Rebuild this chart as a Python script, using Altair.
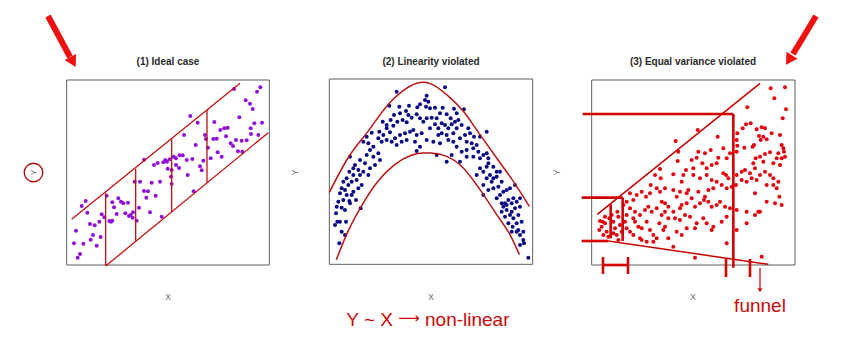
import altair as alt
import pandas as pd

# ---------------- data (in each panel's reading units) ----------------
panel_titles = ["(1) Ideal case", "(2) Linearity violated", "(3) Equal variance violated"]
axis_x_label = "X"
axis_y_label = "Y"
note_left, note_arrow, note_right = "Y ~ X", "\u27f6", "non-linear"
note_funnel = "funnel"

# panel 1: ideal case (purple points)
p1_points = [
    (522, 42), (601, 37), (591, 50), (557, 76), (570, 86), (578, 102), (391, 123), (413, 143),
    (538, 127), (463, 141), (606, 143), (583, 145), (572, 160), (503, 158), (493, 160), (481, 165),
    (372, 180), (435, 180), (438, 192), (470, 191), (460, 192), (498, 184), (573, 177), (595, 180),
    (528, 195), (512, 205), (519, 213), (545, 197), (560, 196), (407, 210), (444, 218), (547, 230),
    (534, 229), (473, 232), (485, 245), (252, 254), (329, 253), (316, 255), (341, 245), (359, 241),
    (368, 241), (348, 250), (380, 255), (397, 252), (452, 250), (282, 270), (293, 264), (310, 262),
    (321, 260), (323, 281), (335, 285), (348, 270), (357, 279), (420, 274), (430, 257), (425, 286),
    (383, 300), (224, 320), (240, 320), (275, 323), (300, 320), (333, 305), (335, 327), (401, 349),
    (252, 348), (264, 349), (259, 368), (287, 362), (140, 362), (77, 378), (65, 393), (82, 413),
    (157, 382), (175, 370), (183, 380), (190, 385), (204, 383), (162, 397), (170, 417), (196, 415),
    (212, 420), (219, 412), (237, 398), (148, 438), (157, 437), (153, 440), (125, 418), (133, 427),
    (118, 440), (104, 451), (90, 447), (230, 437), (270, 412), (305, 425), (48, 467), (99, 480),
    (92, 494), (122, 486), (70, 506), (42, 505), (110, 512), (60, 537), (53, 548), (218, 428), (207, 423),
]
p1_band_lines = [
    (35, 433, 540, 25), (137, 573, 625, 173),
    (137, 355, 137, 573), (227, 281, 227, 498), (335, 193, 335, 411), (441, 105, 441, 324),
]

# panel 2: linearity violated (navy points)
p2_points = [
    (230, 50), (375, 37), (320, 62), (315, 75), (325, 80), (208, 92), (238, 95), (267, 92), (292, 97),
    (300, 88), (318, 95), (330, 100), (345, 98), (368, 98), (402, 101), (432, 103), (410, 115),
    (380, 118), (360, 115), (392, 130), (258, 108), (265, 120), (240, 115), (222, 120), (212, 135),
    (200, 150), (188, 140), (200, 160), (220, 152), (232, 140), (248, 135), (260, 142), (275, 128),
    (290, 118), (300, 130), (310, 140), (320, 130), (335, 128), (350, 130), (345, 148), (330, 160),
    (355, 160), (365, 145), (375, 150), (385, 160), (395, 148), (405, 140), (415, 135), (425, 150),
    (445, 160), (410, 160), (400, 175), (380, 180), (365, 175), (385, 195), (400, 200), (420, 190),
    (435, 180), (450, 175), (462, 185), (440, 200), (455, 205), (470, 210), (480, 185), (500, 170),
    (155, 173), (178, 170), (190, 180), (210, 172), (175, 190), (185, 200), (200, 195), (215, 200),
    (225, 190), (240, 180), (255, 175), (270, 170), (280, 165), (290, 180), (305, 175), (285, 200),
    (300, 215), (290, 228), (260, 195), (245, 200), (230, 210), (355, 180), (340, 200), (360, 205),
    (350, 240), (320, 195), (410, 215), (425, 230), (440, 225), (460, 220), (475, 230), (490, 240),
    (500, 235), (505, 250), (480, 250), (460, 245), (440, 245), (420, 260), (395, 240), (380, 260),
    (140, 185), (130, 200), (145, 205), (160, 215), (150, 225), (140, 240), (160, 245), (175, 235),
    (180, 255), (165, 270), (150, 280), (135, 265), (120, 255), (105, 270), (100, 280), (90, 245),
    (115, 285), (130, 290), (145, 300), (120, 300), (100, 300), (88, 290), (80, 310), (70, 320),
    (95, 320), (110, 315), (85, 330), (75, 345), (65, 340), (60, 355), (80, 360), (100, 350),
    (115, 340), (125, 330), (95, 360), (70, 375), (55, 380), (88, 378), (108, 375), (50, 395),
    (65, 398), (75, 405), (48, 415), (52, 440), (60, 440), (78, 440), (122, 400), (45, 450),
    (65, 470), (75, 480), (58, 505), (90, 385),
    (505, 265), (520, 275), (530, 290), (510, 300), (520, 310), (530, 305), (540, 290), (545, 320),
    (500, 310), (490, 330), (505, 345), (520, 340), (535, 335), (550, 350), (560, 345), (570, 340),
    (580, 370), (575, 385), (565, 375), (590, 380), (600, 370), (600, 395), (585, 400), (575, 410),
    (560, 405), (545, 410), (555, 425), (570, 420), (580, 430), (595, 420), (605, 440), (590, 445),
    (578, 455), (565, 445), (575, 470), (595, 465), (610, 470), (600, 480), (610, 495), (612, 505),
    (600, 510), (590, 470), (625, 548), (480, 280), (470, 300), (490, 360), (530, 370), (545, 385),
    (550, 395), (555, 385), (500, 275), (490, 290), (515, 320), (540, 360), (585, 330), (560, 390),
]
p2_upper_curve = [
    (28, 352), (84, 249), (144, 169), (204, 89), (254, 44), (290, 25), (312, 22), (336, 28),
    (380, 59), (430, 109), (480, 179), (530, 249), (580, 319), (628, 394),
]
p2_lower_curve = [
    (49, 554), (84, 469), (124, 394), (174, 319), (224, 269), (274, 241), (310, 234), (330, 234),
    (380, 244), (430, 279), (480, 344), (530, 419), (570, 479), (598, 539),
]

# panel 3: equal variance violated (red points)
p3_points = [
    (572, 40), (615, 37), (583, 70), (502, 97), (618, 103), (608, 130), (498, 148), (512, 145),
    (488, 160), (545, 157), (555, 160), (530, 163), (472, 175), (537, 183), (550, 185), (542, 195),
    (560, 193), (575, 175), (600, 180), (353, 165), (287, 198), (413, 185), (470, 195), (493, 218),
    (518, 215), (522, 210), (472, 212), (605, 210), (610, 220), (612, 230), (595, 235), (590, 250),
    (605, 250), (615, 245), (570, 232), (555, 237), (540, 245), (527, 250), (520, 265), (550, 260),
    (580, 265), (600, 270), (470, 230), (450, 235), (430, 220), (392, 225), (375, 235), (355, 230),
    (295, 230), (293, 258), (335, 255), (350, 248), (415, 248), (440, 250), (410, 265), (395, 270),
    (380, 280), (367, 265), (340, 280), (318, 285), (240, 282), (225, 300), (212, 330), (242, 310),
    (280, 298), (310, 300), (305, 320), (340, 300), (360, 310), (380, 300), (395, 315), (410, 320),
    (430, 295), (438, 300), (445, 310), (470, 300), (485, 290), (495, 285), (510, 295), (525, 280),
    (540, 300), (555, 290), (570, 300), (580, 310), (595, 320), (580, 330), (590, 340), (560, 330),
    (530, 315), (515, 310), (500, 320), (485, 315), (468, 330), (455, 335), (440, 340), (425, 330),
    (400, 340), (385, 345), (375, 365), (355, 350), (325, 345), (320, 355), (300, 350), (290, 365),
    (280, 345), (255, 340), (240, 350), (230, 340), (210, 355), (198, 365), (185, 350), (170, 360),
    (160, 375), (150, 355), (140, 380), (130, 390), (150, 400), (165, 410), (180, 420), (195, 405),
    (205, 395), (215, 410), (230, 400), (245, 380), (255, 385), (265, 395), (280, 410), (300, 400),
    (305, 390), (320, 385), (335, 370), (345, 395), (360, 385), (372, 375), (385, 380), (395, 395),
    (410, 390), (420, 380), (435, 395), (450, 400), (470, 405), (500, 410), (525, 355), (535, 410),
    (540, 410), (598, 365), (605, 390), (585, 385), (560, 380), (255, 410), (245, 420), (238, 445),
    (255, 455), (265, 430), (285, 430), (300, 435), (315, 420), (330, 425), (345, 460), (370, 430),
    (380, 445), (395, 465), (400, 455), (425, 440), (440, 425), (470, 465), (500, 445), (525, 420),
    (165, 440), (175, 455), (185, 460), (200, 440), (210, 465), (220, 480), (230, 490), (250, 465),
    (265, 490), (280, 515), (220, 500), (200, 500), (185, 495), (160, 480), (150, 470), (140, 460),
    (135, 440), (140, 420), (160, 430), (180, 490), (345, 548), (440, 505), (545, 545), (290, 470),
    (305, 480), (320, 460), (350, 445),
    (60, 438), (65, 455), (75, 445), (80, 470), (70, 480), (88, 430), (100, 440), (105, 460),
    (110, 480), (115, 425), (112, 410), (120, 450), (58, 465), (85, 485), (95, 420), (125, 470),
    (75, 425), (68, 440), (100, 475), (115, 495),
]
p3_thick_lines = [
    (8, 117, 460, 117), (460, 117, 460, 578), (5, 368, 128, 368), (5, 498, 85, 498),
    (92, 388, 92, 490), (128, 368, 128, 498),
    (69, 546, 69, 597), (144, 546, 144, 597), (69, 570, 144, 570),
    (438, 552, 438, 606), (510, 552, 510, 606),
]
p3_thin_lines = [(52, 418, 540, 25), (85, 498, 565, 568)]
p3_funnel_arrow = [(540, 579, 540, 640)]
p3_funnel_head = [(540, 646)]

# ---------------- panel geometry (frame in reading units -> pixels) ----------------
PANELS = [
    dict(dx=[20, 628], dy=[15, 570], rx=[60 + 20 / 3, 60 + 628 / 3], ry=[75 + 15 / 3, 75 + 570 / 3]),
    dict(dx=[28, 638], dy=[12, 568], rx=[320 + 28 / 3, 320 + 638 / 3], ry=[75 + 12 / 3, 75 + 568 / 3]),
    dict(dx=[35, 645], dy=[15, 570], rx=[580 + 35 / 3, 580 + 645 / 3], ry=[75 + 15 / 3, 75 + 570 / 3]),
]


def X(p, field="x"):
    return alt.X(f"{field}:Q", scale=alt.Scale(domain=p["dx"], range=p["rx"], nice=False, zero=False), axis=None)


def Y(p, field="y"):
    return alt.Y(f"{field}:Q", scale=alt.Scale(domain=p["dy"], range=p["ry"], nice=False, zero=False), axis=None)


def pts_df(pts):
    return pd.DataFrame(pts, columns=["x", "y"])


def seg_df(segs):
    return pd.DataFrame(segs, columns=["x", "y", "x2", "y2"])


def frame(p):
    df = pd.DataFrame({"x": [p["dx"][0]], "x2": [p["dx"][1]], "y": [p["dy"][0]], "y2": [p["dy"][1]]})
    return alt.Chart(df).mark_rect(filled=False, stroke="#5f5f5f", strokeWidth=1).encode(
        x=X(p), x2="x2:Q", y=Y(p), y2="y2:Q")


def points(p, pts, color):
    return alt.Chart(pts_df(pts)).mark_circle(size=16, color=color, opacity=1).encode(x=X(p), y=Y(p))


def segments(p, segs, color, width):
    return alt.Chart(seg_df(segs)).mark_rule(color=color, strokeWidth=width).encode(
        x=X(p), y=Y(p), x2="x2:Q", y2="y2:Q")


def curve(p, pts, color, width):
    return alt.Chart(pts_df(pts)).mark_line(color=color, strokeWidth=width, interpolate="monotone").encode(
        x=X(p), y=Y(p))


P1, P2, P3 = PANELS
layers = [
    frame(P1), points(P1, p1_points, "#9012d6"), segments(P1, p1_band_lines, "#c41010", 1.3),
    frame(P2), points(P2, p2_points, "#0b0b86"),
    curve(P2, p2_upper_curve, "#b81414", 1.5), curve(P2, p2_lower_curve, "#b81414", 1.5),
    frame(P3), points(P3, p3_points, "#e5000c"),
    segments(P3, p3_thick_lines, "#d20000", 2.6), segments(P3, p3_thin_lines, "#c80000", 1.5),
    segments(P3, p3_funnel_arrow, "#c80000", 1.2),
    alt.Chart(pts_df(p3_funnel_head)).mark_point(shape="triangle-down", filled=True, size=22,
                                                 color="#c80000", opacity=1).encode(x=X(P3), y=Y(P3)),
]

FONT = "Liberation Sans"
title_x = [168, 431, 693]
for t, cx in zip(panel_titles, title_x):
    layers.append(alt.Chart().mark_text(text=t, font=FONT, fontSize=10, fontWeight="bold", color="#2b2b2b",
                                        align="center", baseline="middle").encode(x=alt.value(cx), y=alt.value(62)))
for cx in title_x:
    layers.append(alt.Chart().mark_text(text=axis_x_label, font=FONT, fontSize=8.5, color="#6a6a6a",
                                        align="center", baseline="middle").encode(x=alt.value(cx), y=alt.value(297)))
for cx in [34, 295, 557]:
    layers.append(alt.Chart().mark_text(text=axis_y_label, font=FONT, fontSize=8.5, color="#6a6a6a", angle=270,
                                        align="center", baseline="middle").encode(x=alt.value(cx), y=alt.value(172.5)))

# circle around the first Y label
layers.append(alt.Chart().mark_point(shape="circle", size=345, filled=False, color="#b01212", strokeWidth=1.4,
                                     opacity=1).encode(x=alt.value(33.5), y=alt.value(172.5)))

# big red notes
RED_TXT = "#cc0a0a"
layers.append(alt.Chart().mark_text(text=note_left, font=FONT, fontSize=19, color=RED_TXT,
                                    align="right", baseline="alphabetic").encode(x=alt.value(393), y=alt.value(326)))
layers.append(alt.Chart().mark_text(text=note_arrow, font="DejaVu Sans", fontSize=15, color=RED_TXT,
                                    align="center", baseline="middle").encode(x=alt.value(409), y=alt.value(318)))
layers.append(alt.Chart().mark_text(text=note_right, font=FONT, fontSize=19, color=RED_TXT,
                                    align="left", baseline="alphabetic").encode(x=alt.value(425), y=alt.value(326)))
layers.append(alt.Chart().mark_text(text=note_funnel, font=FONT, fontSize=19, color=RED_TXT,
                                    align="center", baseline="middle").encode(x=alt.value(760), y=alt.value(306)))

# corner arrows
layers.append(alt.Chart().mark_rule(color="#ee1111", strokeWidth=6).encode(
    x=alt.value(48), y=alt.value(16), x2=alt.value(70), y2=alt.value(57)))
layers.append(alt.Chart().mark_point(shape="triangle-down", filled=True, size=170, angle=332, color="#ee1111",
                                     opacity=1).encode(x=alt.value(73), y=alt.value(62)))
layers.append(alt.Chart().mark_rule(color="#ee1111", strokeWidth=6).encode(
    x=alt.value(816), y=alt.value(16), x2=alt.value(793), y2=alt.value(54)))
layers.append(alt.Chart().mark_point(shape="triangle-down", filled=True, size=170, angle=32, color="#ee1111",
                                     opacity=1).encode(x=alt.value(789), y=alt.value(60)))

chart = alt.layer(*layers).resolve_scale(x="independent", y="independent").properties(
    width=846, height=352, padding=0, autosize=alt.AutoSizeParams(type="none"), background="white"
).configure_view(stroke=None)

chart.save("out.html", embed_options={"renderer": "svg", "actions": False})
